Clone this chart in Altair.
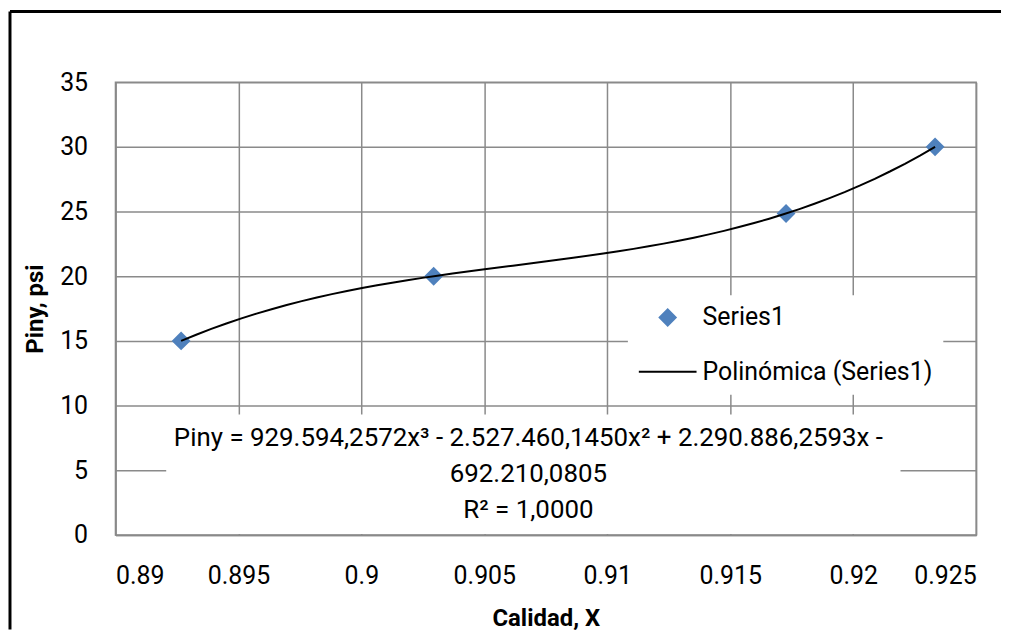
import altair as alt
import pandas as pd

# ---- data ----
calidad = [0.89267, 0.90294, 0.91727, 0.92333]
piny = [15.0, 20.0, 24.85, 30.0]
x_ticks = [0.89, 0.895, 0.9, 0.905, 0.91, 0.915, 0.92, 0.925]
y_ticks = [0, 5, 10, 15, 20, 25, 30, 35]
series_names = ["Series1", "Polinómica (Series1)"]
series_colors = ["#4F81BD", "#000000"]
series_fills = ["#4F81BD", "transparent"]
series_shapes = ["diamond", "stroke"]
series_sizes = [260, 3364]
eq_lines = [
    "Piny = 929.594,2572x³ - 2.527.460,1450x² + 2.290.886,2593x -",
    "692.210,0805",
    "R² = 1,0000",
]

df = pd.DataFrame({"Calidad": calidad, "Piny": piny, "serie": [series_names[0]] * len(calidad)})
one = pd.DataFrame({"k": [0]})

W, H = 865, 455
FONT = "Roboto"
GRID = "#8a8a8a"

x_enc = alt.X(
    "Calidad:Q",
    scale=alt.Scale(domain=[x_ticks[0], x_ticks[-1]], nice=False, zero=False),
    axis=alt.Axis(title="Calidad, X", values=x_ticks, format="~g", labelPadding=29,
                  titlePadding=18),
)
y_enc = alt.Y(
    "Piny:Q",
    scale=alt.Scale(domain=[y_ticks[0], y_ticks[-1]], nice=False),
    axis=alt.Axis(title="Piny, psi", values=y_ticks, labelPadding=28, titlePadding=12),
)

leg = alt.Legend(
    title=None, orient="none", legendX=515, legendY=214, fillColor="white", padding=10,
    labelFont=FONT, labelFontSize=25, labelColor="black", symbolStrokeWidth=2,
    labelOffset=5, rowPadding=11, labelLimit=400,
)

color_enc = alt.Color("serie:N", scale=alt.Scale(domain=series_names, range=series_colors), legend=leg)
fill_enc = alt.Fill("serie:N", scale=alt.Scale(domain=series_names, range=series_fills), legend=leg)
shape_enc = alt.Shape("serie:N", scale=alt.Scale(domain=series_names, range=series_shapes), legend=leg)
size_enc = alt.Size("serie:N", scale=alt.Scale(domain=series_names, range=series_sizes), legend=leg)

points = alt.Chart(df).mark_point(filled=False, strokeWidth=2, opacity=1).encode(
    x=x_enc, y=y_enc, color=color_enc, fill=fill_enc, shape=shape_enc, size=size_enc
)

trend = (
    alt.Chart(df)
    .transform_regression("Calidad", "Piny", method="poly", order=3)
    .transform_calculate(serie="'Polinómica (Series1)'")
    .mark_line(strokeWidth=2)
    .encode(x=x_enc, y=y_enc, color=color_enc)
)

eq_box = alt.Chart(one).mark_rect(color="white").encode(
    x=alt.value(51), x2=alt.value(789), y=alt.value(334), y2=alt.value(454)
)
eq_text = alt.Chart(one).mark_text(
    font=FONT, fontSize=26, lineHeight=36, align="center", baseline="middle", color="black"
).encode(x=alt.value(415), y=alt.value(358), text=alt.value(eq_lines))

frame_left = alt.Chart(one).mark_rule(color="black", strokeWidth=3).encode(
    x=alt.value(-106), y=alt.value(-71), y2=alt.value(H + 95)
)
frame_top = alt.Chart(one).mark_rule(color="black", strokeWidth=3).encode(
    y=alt.value(-71), x=alt.value(-106), x2=alt.value(W + 25)
)

chart = (
    alt.layer(frame_left, frame_top, eq_box, points, trend, eq_text)
    .properties(width=W, height=H, padding=0, background="white")
    .configure_view(stroke=GRID, strokeWidth=1.5)
    .configure_axis(
        domainColor=GRID, domainWidth=1.5, gridColor=GRID, gridWidth=1.5, ticks=False,
        labelFont=FONT, labelFontSize=25, labelColor="black",
        titleFont=FONT, titleFontSize=24, titleFontWeight="bold", titleColor="black",
    )
)

chart.save("out.html", embed_options={"renderer": "svg", "actions": False})
